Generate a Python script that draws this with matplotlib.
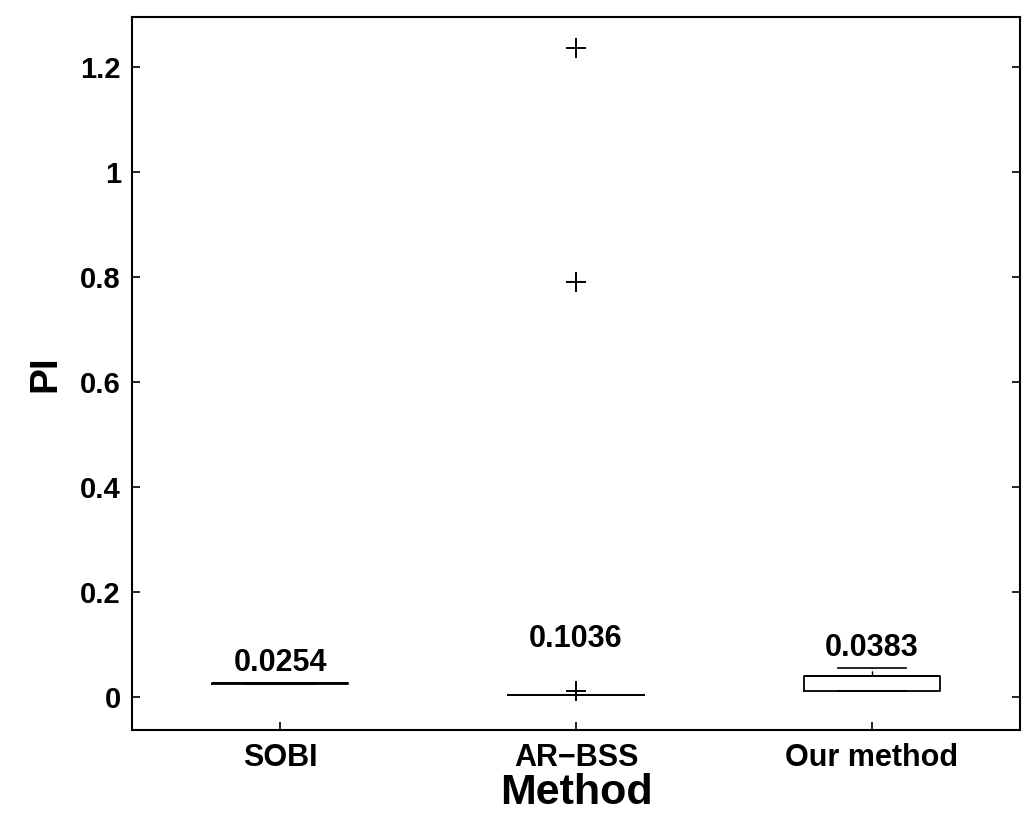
import matplotlib
matplotlib.use('Agg')
import matplotlib.pyplot as plt

# box statistics
methods = ['SOBI', 'AR\u2212BSS', 'Our method']
medians = [0.025, 0.002, 0.039]
q1s = [0.024, 0.002, 0.011]
q3s = [0.026, 0.003, 0.040]
whislo = [0.024, 0.002, 0.010]
whishi = [0.026, 0.003, 0.055]
outliers = [[], [0.010, 0.790, 1.236], []]
med_labels = ['0.0254', '0.1036', '0.0383']
label_y = [0.049, 0.094, 0.078]

plt.rcParams['font.family'] = ['Liberation Sans', 'DejaVu Sans']
plt.rcParams['font.weight'] = 'bold'

fig = plt.figure(figsize=(10.24, 8.17), dpi=100)
ax = fig.add_axes([0.129, 0.107, 0.867, 0.872])

stats = []
for i in range(len(methods)):
    stats.append({'med': medians[i], 'q1': q1s[i], 'q3': q3s[i],
                  'whislo': whislo[i], 'whishi': whishi[i],
                  'fliers': outliers[i], 'label': methods[i]})

ax.bxp(stats, positions=[1, 2, 3], widths=0.46, showfliers=True,
       boxprops=dict(color='black', linewidth=1.3),
       medianprops=dict(color='black', linewidth=1.3),
       whiskerprops=dict(color='black', linewidth=1.0, linestyle='--'),
       capprops=dict(color='black', linewidth=1.2),
       flierprops=dict(marker='+', markeredgecolor='black', markersize=14,
                       markeredgewidth=1.4))

for i in range(len(methods)):
    ax.text(i + 1, label_y[i], med_labels[i], ha='center', va='baseline',
            fontsize=22, fontweight='bold')

ax.set_xlim(0.5, 3.5)
ax.set_ylim(-0.063, 1.295)
ax.set_yticks([0, 0.2, 0.4, 0.6, 0.8, 1, 1.2])
ax.set_yticklabels(['0', '0.2', '0.4', '0.6', '0.8', '1', '1.2'])
ax.tick_params(axis='y', direction='in', labelsize=21, length=6, width=1.2, pad=8)
ax.tick_params(axis='x', direction='in', labelsize=22, length=6, width=1.2, pad=10)
ax.tick_params(axis='y', right=True)
for lbl in ax.get_xticklabels() + ax.get_yticklabels():
    lbl.set_fontweight('bold')
for sp in ax.spines.values():
    sp.set_linewidth(1.5)

ax.set_xlabel('Method', fontsize=31, fontweight='bold', labelpad=0)
ax.set_ylabel('PI', fontsize=28, fontweight='bold', labelpad=12)

fig.savefig('out.png', dpi=100)
